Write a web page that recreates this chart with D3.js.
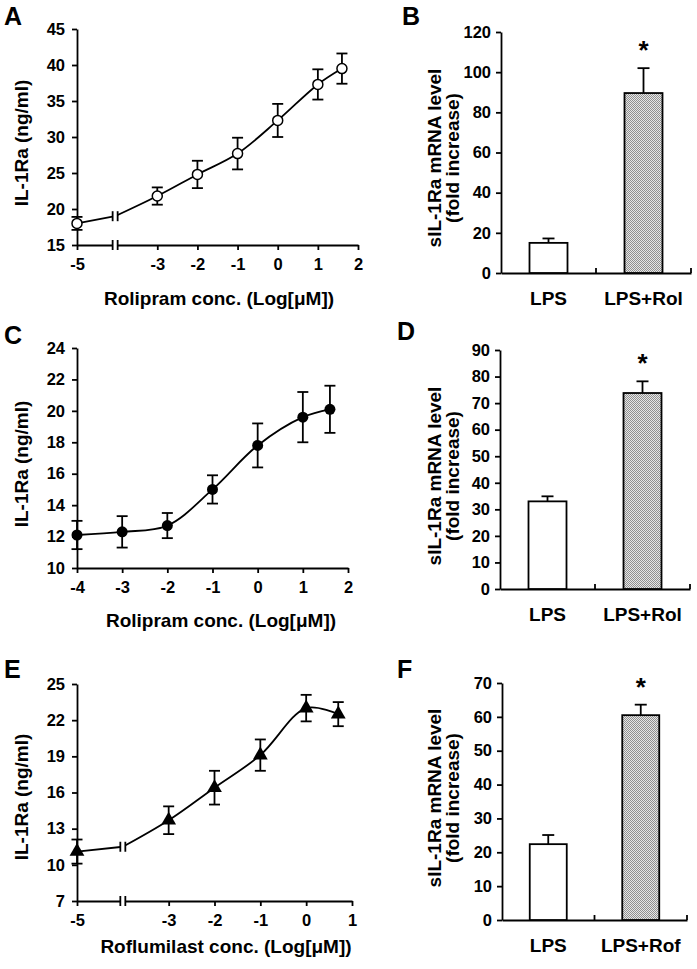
<!DOCTYPE html>
<html><head><meta charset="utf-8">
<script src="https://cdn.jsdelivr.net/npm/d3@7"></script>
<style>
body{margin:0;background:#fff}
svg text{font-family:"Liberation Sans",Arial,sans-serif;font-weight:bold;fill:#000}
</style>
</head><body>
<svg id="c" width="697" height="969"></svg>
<script>
// ---------- DATA ----------
// Panel A (Rolipram, open circles)
const xA = [-5, -3, -2, -1, 0, 1, 1.6];
const yA = [18.0, 21.8, 24.8, 27.7, 32.3, 37.3, 39.5];
const errA = [0.9, 1.2, 1.9, 2.2, 2.3, 2.1, 2.1];
const yTicksA = [15, 20, 25, 30, 35, 40, 45];
const xTicksA = [-5, -3, -2, -1, 0, 1, 2];
const breakA = [-4.05, 19.0];   // axis-break position and line level at the break

// Panel C (Rolipram, filled circles)
const xC = [-4, -3, -2, -1, 0, 1, 1.6];
const yC = [12.1, 12.3, 12.7, 15.0, 17.8, 19.6, 20.1];
const errC = [0.9, 1.0, 0.8, 0.9, 1.4, 1.6, 1.5];
const yTicksC = [10, 12, 14, 16, 18, 20, 22, 24];
const xTicksC = [-4, -3, -2, -1, 0, 1, 2];

// Panel E (Roflumilast, triangles)
const xE = [-5, -3, -2, -1, 0, 0.7];
const yE = [11.1, 13.7, 16.4, 19.1, 23.0, 22.5];
const errE = [1.0, 1.15, 1.4, 1.3, 1.1, 1.0];
const yTicksE = [7, 10, 13, 16, 19, 22, 25];
const xTicksE = [-5, -3, -2, -1, 0, 1];
const breakE = [-4.0, 11.5];

// Bar panels
const catsB = ["LPS", "LPS+Rol"];
const valsB = [15.0, 89.6];
const errB = [2.2, 12.4];
const yTicksB = [0, 20, 40, 60, 80, 100, 120];

const catsD = ["LPS", "LPS+Rol"];
const valsD = [33.0, 73.8];
const errD = [1.9, 4.4];
const yTicksD = [0, 10, 20, 30, 40, 50, 60, 70, 80, 90];

const catsF = ["LPS", "LPS+Rof"];
const valsF = [22.4, 60.5];
const errF = [2.7, 3.1];
const yTicksF = [0, 10, 20, 30, 40, 50, 60, 70];

// ---------- DRAWING ----------
const svg = d3.select("#c");
const defs = svg.append("defs");
const pat = defs.append("pattern").attr("id", "hatch").attr("patternUnits", "userSpaceOnUse")
  .attr("width", 2).attr("height", 2);
pat.append("rect").attr("width", 2).attr("height", 2).attr("fill", "#e6e6e6");
pat.append("rect").attr("width", 1).attr("height", 1).attr("fill", "#909090");
pat.append("rect").attr("x", 1).attr("y", 1).attr("width", 1).attr("height", 1).attr("fill", "#909090");

const SW = 1.8;
const TICKF = 16.5, TITLEF = 19;

function styleAxis(s) {
  s.attr("font-family", null).attr("font-size", TICKF);
  s.select(".domain").attr("stroke-width", SW).attr("stroke", "#000");
  s.selectAll(".tick line").attr("stroke-width", SW).attr("stroke", "#000");
  s.selectAll(".tick text").attr("font-size", TICKF);
}

function panelLetter(t, x, y) {
  svg.append("text").attr("x", x).attr("y", y).attr("font-size", 25).text(t);
}

function linePanel(c) {
  const x = d3.scaleLinear().domain(c.xDomain).range([c.left, c.right]);
  const y = d3.scaleLinear().domain(c.yDomain).range([c.bottom, c.top]);
  const g = svg.append("g");

  g.append("g").attr("transform", `translate(${c.left},0)`)
    .call(d3.axisLeft(y).tickValues(c.yTicks).tickSize(5).tickSizeOuter(0).tickPadding(7))
    .call(styleAxis);
  g.append("g").attr("transform", `translate(0,${c.bottom})`)
    .call(d3.axisBottom(x).tickValues(c.xTicks).tickSize(5).tickSizeOuter(0).tickPadding(8).tickFormat(d3.format("d")))
    .call(styleAxis)
    .call(s => s.selectAll(".tick text").text(d => d < 0 ? "-" + Math.abs(d) : d));

  const pts = c.xs.map((v, i) => [x(v), y(c.ys[i])]);
  const line = d3.line().curve(d3.curveCatmullRom.alpha(0.5));
  if (c.brk) {
    const bx = x(c.brk[0]), by = y(c.brk[1]);
    g.append("path").attr("d", d3.line()([pts[0], [bx, by]])).attr("fill", "none").attr("stroke", "#000").attr("stroke-width", SW);
    g.append("path").attr("d", line([[bx, by], ...pts.slice(1)])).attr("fill", "none").attr("stroke", "#000").attr("stroke-width", SW);
    const gap = 5;
    [by, c.bottom].forEach(yy => {
      g.append("rect").attr("x", bx - gap / 2).attr("y", yy - 3).attr("width", gap).attr("height", 6).attr("fill", "#fff");
      [bx - gap / 2, bx + gap / 2].forEach(xx => {
        g.append("line").attr("x1", xx).attr("x2", xx).attr("y1", yy - 5).attr("y2", yy + 5)
          .attr("stroke", "#000").attr("stroke-width", SW);
      });
    });
  } else {
    g.append("path").attr("d", line(pts)).attr("fill", "none").attr("stroke", "#000").attr("stroke-width", SW);
  }

  const cap = 5.5;
  c.xs.forEach((v, i) => {
    const xx = x(v), y1 = y(c.ys[i] + c.errs[i]), y0 = y(c.ys[i] - c.errs[i]);
    g.append("line").attr("x1", xx).attr("x2", xx).attr("y1", y1).attr("y2", y0).attr("stroke", "#000").attr("stroke-width", SW);
    [y1, y0].forEach(yy => g.append("line").attr("x1", xx - cap).attr("x2", xx + cap).attr("y1", yy).attr("y2", yy)
      .attr("stroke", "#000").attr("stroke-width", SW));
  });

  c.xs.forEach((v, i) => {
    const xx = x(v), yy = y(c.ys[i]);
    if (c.marker === "open") {
      g.append("circle").attr("cx", xx).attr("cy", yy).attr("r", 5).attr("fill", "#fff").attr("stroke", "#000").attr("stroke-width", 1.5);
    } else if (c.marker === "filled") {
      g.append("circle").attr("cx", xx).attr("cy", yy).attr("r", 5.5).attr("fill", "#000");
    } else {
      g.append("path").attr("d", d3.symbol(d3.symbolTriangle, 95)()).attr("transform", `translate(${xx},${yy})`).attr("fill", "#000");
    }
  });

  g.append("text").attr("transform", `translate(${c.ytx},${c.yty}) rotate(-90)`).attr("text-anchor", "middle")
    .attr("font-size", TITLEF).text("IL-1Ra (ng/ml)");
  g.append("text").attr("x", c.xtx).attr("y", c.xty).attr("text-anchor", "middle").attr("font-size", TITLEF).text(c.xTitle);
}

function barPanel(c) {
  const x = d3.scaleBand().domain(c.cats).range([c.left, c.right]).paddingInner(0.6).paddingOuter(0.3);
  const y = d3.scaleLinear().domain([0, c.yMax]).range([c.bottom, c.top]);
  const g = svg.append("g");

  g.append("g").attr("transform", `translate(${c.left},0)`)
    .call(d3.axisLeft(y).tickValues(c.yTicks).tickSize(5).tickSizeOuter(0).tickPadding(5))
    .call(styleAxis);
  g.append("g").attr("transform", `translate(0,${c.bottom})`)
    .call(d3.axisBottom(x).tickSize(0).tickSizeOuter(0).tickPadding(19))
    .call(styleAxis)
    .call(s => s.selectAll(".tick text").attr("font-size", 19));
  c.cats.forEach((d, i) => {
    const bx = c.left + x.step() * (i + 1);
    g.append("line").attr("x1", bx).attr("x2", bx).attr("y1", c.bottom).attr("y2", c.bottom - 5)
      .attr("stroke", "#000").attr("stroke-width", SW);
  });

  c.cats.forEach((d, i) => {
    const bx = x(d), bw = x.bandwidth(), top = y(c.vals[i]), et = y(c.vals[i] + c.errs[i]);
    const cx = bx + bw / 2;
    g.append("line").attr("x1", cx).attr("x2", cx).attr("y1", top).attr("y2", et).attr("stroke", "#000").attr("stroke-width", SW);
    g.append("line").attr("x1", cx - 6).attr("x2", cx + 6).attr("y1", et).attr("y2", et).attr("stroke", "#000").attr("stroke-width", SW);
    g.append("rect").attr("x", bx).attr("y", top).attr("width", bw).attr("height", c.bottom - top)
      .attr("fill", i === 0 ? "#fff" : "url(#hatch)").attr("stroke", "#000").attr("stroke-width", SW);
    if (i === 1) {
      g.append("text").attr("x", cx).attr("y", et - 9).attr("text-anchor", "middle").attr("font-size", 26).text("*");
    }
  });

  const t = g.append("text").attr("transform", `translate(${c.ytx},${c.yty}) rotate(-90)`).attr("text-anchor", "middle")
    .attr("font-size", TITLEF);
  t.append("tspan").attr("x", 0).attr("dy", 0).text("sIL-1Ra mRNA level");
  t.append("tspan").attr("x", 0).attr("dy", 18).text("(fold increase)");
}

linePanel({xs: xA, ys: yA, errs: errA, xDomain: [-5, 2], yDomain: [15, 45], yTicks: yTicksA, xTicks: xTicksA,
  left: 77, right: 358, top: 29, bottom: 245, marker: "open", brk: breakA,
  ytx: 28, yty: 143, xtx: 219, xty: 305, xTitle: "Rolipram conc. (Log[\u03bcM])"});
linePanel({xs: xC, ys: yC, errs: errC, xDomain: [-4, 2], yDomain: [10, 24], yTicks: yTicksC, xTicks: xTicksC,
  left: 77, right: 348, top: 348, bottom: 568, marker: "filled", brk: null,
  ytx: 28, yty: 464, xtx: 221, xty: 627, xTitle: "Rolipram conc. (Log[\u03bcM])"});
linePanel({xs: xE, ys: yE, errs: errE, xDomain: [-5, 1], yDomain: [7, 25], yTicks: yTicksE, xTicks: xTicksE,
  left: 77, right: 352, top: 684, bottom: 901, marker: "tri", brk: breakE,
  ytx: 28, yty: 797, xtx: 226, xty: 953, xTitle: "Roflumilast conc. (Log[\u03bcM])"});

barPanel({cats: catsB, vals: valsB, errs: errB, yMax: 120, yTicks: yTicksB,
  left: 501, right: 691, top: 32, bottom: 273, ytx: 441, yty: 158});
barPanel({cats: catsD, vals: valsD, errs: errD, yMax: 90, yTicks: yTicksD,
  left: 500, right: 690, top: 350, bottom: 589, ytx: 441, yty: 476});
barPanel({cats: catsF, vals: valsF, errs: errF, yMax: 70, yTicks: yTicksF,
  left: 502, right: 687, top: 683, bottom: 920, ytx: 441, yty: 798});

panelLetter("A", 4, 25);
panelLetter("B", 402, 25);
panelLetter("C", 4, 344);
panelLetter("D", 397, 340);
panelLetter("E", 4, 678);
panelLetter("F", 397, 678);
</script>
</body></html>
